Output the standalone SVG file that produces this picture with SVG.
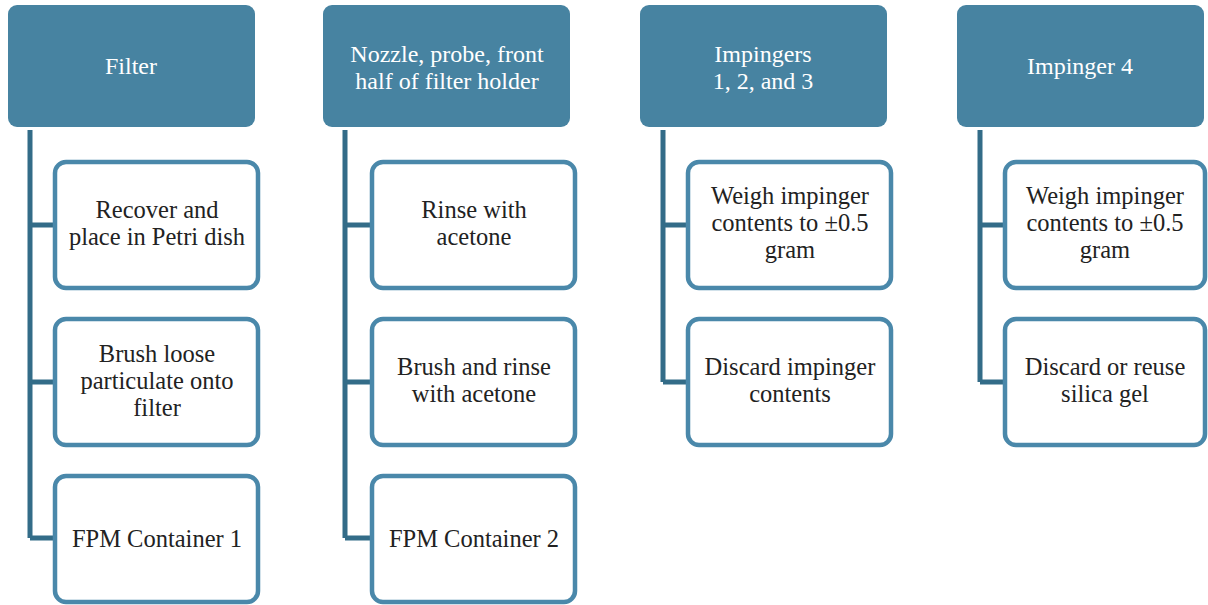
<svg xmlns="http://www.w3.org/2000/svg" width="1208" height="605" viewBox="0 0 1208 605">
<style>
.hdr{fill:#4783a1;}
.box{fill:#fff;stroke:#4a88aa;stroke-width:4.5;}
.conn{fill:none;stroke:#336c88;stroke-width:5;}
.ht{font-family:"Liberation Serif","Times New Roman",serif;font-size:24px;fill:#fff;text-anchor:middle;}
.bt{font-family:"Liberation Serif","Times New Roman",serif;font-size:24.5px;fill:#222;text-anchor:middle;}
</style>
<rect width="1208" height="605" fill="#fff"/>
<g id="connectors">
<path class="conn" d="M30,130 V538 M30,225 H53 M30,382 H53 M30,538 H53"/>
<path class="conn" d="M345,130 V538 M345,225 H370 M345,382 H370 M345,538 H370"/>
<path class="conn" d="M663,130 V382 M663,225 H686 M663,382 H686"/>
<path class="conn" d="M980,130 V382 M980,225 H1003 M980,382 H1003"/>
</g>
<g id="h1"><rect class="hdr" x="8" y="5" width="247" height="122" rx="9"/><text class="ht" x="131" y="74">Filter</text></g>
<g id="h2"><rect class="hdr" x="323" y="5" width="247" height="122" rx="9"/><text class="ht" x="447" y="62">Nozzle, probe, front</text><text class="ht" x="447" y="89">half of filter holder</text></g>
<g id="h3"><rect class="hdr" x="640" y="5" width="247" height="122" rx="9"/><text class="ht" x="763" y="62">Impingers</text><text class="ht" x="763" y="89">1, 2, and 3</text></g>
<g id="h4"><rect class="hdr" x="957" y="5" width="247" height="122" rx="9"/><text class="ht" x="1080" y="74">Impinger 4</text></g>

<g id="c1a"><rect class="box" x="55" y="162" width="203" height="126" rx="11"/><text class="bt" x="157" y="218">Recover and</text><text class="bt" x="157" y="245">place in Petri dish</text></g>
<g id="c1b"><rect class="box" x="55" y="319" width="203" height="126" rx="11"/><text class="bt" x="157" y="362">Brush loose</text><text class="bt" x="157" y="389">particulate onto</text><text class="bt" x="157" y="416">filter</text></g>
<g id="c1c"><rect class="box" x="55" y="476" width="203" height="126" rx="11"/><text class="bt" x="157" y="547">FPM Container 1</text></g>

<g id="c2a"><rect class="box" x="372" y="162" width="203" height="126" rx="11"/><text class="bt" x="474" y="218">Rinse with</text><text class="bt" x="474" y="245">acetone</text></g>
<g id="c2b"><rect class="box" x="372" y="319" width="203" height="126" rx="11"/><text class="bt" x="474" y="375">Brush and rinse</text><text class="bt" x="474" y="402">with acetone</text></g>
<g id="c2c"><rect class="box" x="372" y="476" width="203" height="126" rx="11"/><text class="bt" x="474" y="547">FPM Container 2</text></g>

<g id="c3a"><rect class="box" x="688" y="162" width="203" height="126" rx="11"/><text class="bt" x="790" y="204">Weigh impinger</text><text class="bt" x="790" y="231">contents to ±0.5</text><text class="bt" x="790" y="258">gram</text></g>
<g id="c3b"><rect class="box" x="688" y="319" width="203" height="126" rx="11"/><text class="bt" x="790" y="375">Discard impinger</text><text class="bt" x="790" y="402">contents</text></g>

<g id="c4a"><rect class="box" x="1005" y="162" width="200" height="126" rx="11"/><text class="bt" x="1105" y="204">Weigh impinger</text><text class="bt" x="1105" y="231">contents to ±0.5</text><text class="bt" x="1105" y="258">gram</text></g>
<g id="c4b"><rect class="box" x="1005" y="319" width="200" height="126" rx="11"/><text class="bt" x="1105" y="375">Discard or reuse</text><text class="bt" x="1105" y="402">silica gel</text></g>
</svg>
